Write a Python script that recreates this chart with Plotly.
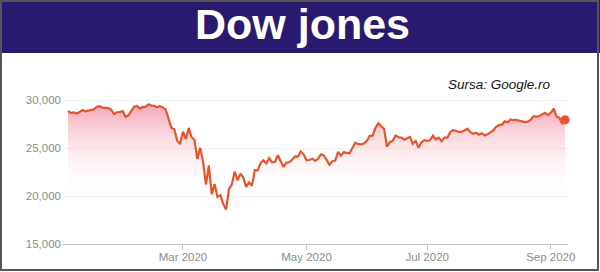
import plotly.graph_objects as go
import pandas as pd

# ---- data: Dow Jones daily closes, 2020 (trading days) ----
holidays_2020 = ["2020-01-20", "2020-02-17", "2020-04-10", "2020-05-25", "2020-07-03", "2020-09-07"]

jan = [28868.80, 28634.88, 28703.38, 28583.68, 28745.09, 28956.90, 28823.77, 28907.05, 28939.67, 29030.22,
       29297.64, 29348.10, 29196.04, 29186.27, 29160.09, 28989.73, 28535.80, 28722.85, 28734.45, 28859.44, 28256.03]
feb = [28399.81, 28807.63, 29290.85, 29379.77, 29102.51, 29276.82, 29276.34, 29551.42, 29423.31, 29398.08,
       29232.19, 29348.03, 29219.98, 28992.41, 27960.80, 27081.36, 26957.59, 25766.64, 25409.36]
mar = [26703.32, 25917.41, 27090.86, 26121.28, 25864.78, 23851.02, 25018.16, 23553.22, 21200.62, 23185.62,
       20188.52, 21237.38, 19898.92, 20087.19, 19173.98, 18591.93, 20704.91, 21200.55, 22552.17, 21636.78,
       22327.48, 21917.16]
apr = [20943.51, 21413.44, 21052.53, 22679.99, 22653.86, 23433.57, 23719.37, 23390.77, 23949.76, 23504.35,
       23537.68, 24242.49, 23650.44, 23018.88, 23475.82, 23515.26, 23775.27, 24133.78, 24101.55, 24633.86, 24345.72]
may = [23723.69, 23749.76, 23883.09, 23664.64, 23875.89, 24331.32, 24221.99, 23764.78, 23247.97, 23625.34,
       23685.42, 24597.37, 24206.86, 24575.90, 24474.12, 24465.16, 24995.11, 25548.27, 25400.64, 25383.11]
jun = [25475.02, 25742.65, 26269.89, 26281.82, 27110.98, 27572.44, 27272.30, 26989.99, 25128.17, 25605.54,
       25763.16, 26289.98, 26119.61, 26080.10, 25871.46, 26024.96, 26156.10, 25445.94, 25745.60, 25015.55,
       25595.80, 25812.88]
jul = [25734.97, 25827.36, 26287.03, 25890.18, 26067.28, 25706.09, 26075.30, 26085.80, 26642.59, 26870.10,
       26734.71, 26671.95, 26680.87, 26840.40, 27005.84, 26652.33, 26469.89, 26584.77, 26379.28, 26539.57,
       26313.65, 26428.32]
aug = [26664.40, 26828.47, 27201.52, 27386.98, 27433.48, 27791.44, 27686.91, 27976.84, 27896.72, 27931.02,
       27844.91, 27778.07, 27692.88, 27739.73, 27930.33, 28308.46, 28248.44, 28331.92, 28492.27, 28653.87, 28430.05]
sep = [28645.66, 29100.50, 28292.73, 28133.31, 27500.89, 27940.47]

closes = jan + feb + mar + apr + may + jun + jul + aug + sep
dates = [d.strftime("%Y-%m-%d") for d in
         pd.bdate_range("2020-01-02", "2020-09-09", freq="C", holidays=holidays_2020)]
assert len(dates) == len(closes)

tick_dates = ["2020-03-02", "2020-05-01", "2020-07-01", "2020-09-01"]
tick_labels = ["Mar 2020", "May 2020", "Jul 2020", "Sep 2020"]
y_ticks = [15000, 20000, 25000, 30000]
y_labels = ["15,000", "20,000", "25,000", "30,000"]

title_text = "Dow jones"
source_text = "Sursa: Google.ro"

# ---- layout geometry (pixels) ----
W, H = 600, 272
L, R, T, B = 62, 32, 88, 28
PW, PH = W - L - R, H - T - B


def px(x):
    return (x - L) / PW


def py(y):
    return (H - B - y) / PH


LINE = "#e4552c"
FONT = "Liberation Sans, Arial, sans-serif"

fig = go.Figure()
fig.add_trace(go.Scatter(
    x=dates, y=closes, mode="lines",
    line=dict(color=LINE, width=2.2),
    fill="tozeroy",
    fillgradient=dict(type="vertical", start=19800, stop=29600,
                      colorscale=[[0, "rgba(255,255,255,0)"], [1, "rgba(244,150,170,0.85)"]]),
    hoverinfo="skip", showlegend=False,
))
fig.add_trace(go.Scatter(
    x=[dates[-1]], y=[closes[-1]], mode="markers", cliponaxis=False,
    marker=dict(color=LINE, size=9), hoverinfo="skip", showlegend=False,
))

fig.update_layout(
    width=W, height=H, autosize=False,
    margin=dict(l=L, r=R, t=T, b=B, pad=0, autoexpand=False),
    paper_bgcolor="white", plot_bgcolor="white",
    font=dict(family=FONT),
    xaxis=dict(type="category", range=[-2.1, len(dates) + 0.0], automargin=False,
               tickvals=tick_dates, ticktext=tick_labels, ticklabelstandoff=-3,
               showgrid=False, showline=True, linecolor="#c4c4c4", linewidth=1,
               ticks="outside", ticklen=5, tickcolor="#c4c4c4",
               tickfont=dict(size=11.5, color="#8c8c8c"), zeroline=False),
    yaxis=dict(range=[15000, 31250], tickvals=y_ticks, ticktext=y_labels, automargin=False,
               showgrid=True, gridcolor="#f0f0f0", zeroline=False, showline=False,
               ticks="", tickfont=dict(size=11.5, color="#8c8c8c")),
    shapes=[
        dict(type="rect", xref="paper", yref="paper", layer="above",
             x0=px(0), x1=px(600), y0=py(53), y1=py(0),
             fillcolor="#291a6f", line=dict(width=0)),
        dict(type="rect", xref="paper", yref="paper", layer="above",
             x0=px(1), x1=px(598), y0=py(270), y1=py(1),
             fillcolor="rgba(0,0,0,0)", line=dict(color="#555555", width=2)),
    ],
    annotations=[
        dict(text="<b>" + title_text + "</b>", xref="paper", yref="paper",
             x=px(302), y=py(24), xanchor="center", yanchor="middle", showarrow=False,
             font=dict(size=43, color="white", family=FONT)),
        dict(text="<i>" + source_text + "</i>", xref="paper", yref="paper",
             x=px(553), y=py(84), xanchor="right", yanchor="middle", showarrow=False,
             font=dict(size=13.5, color="#111111", family=FONT)),
    ],
)

fig.write_html("out.html")
